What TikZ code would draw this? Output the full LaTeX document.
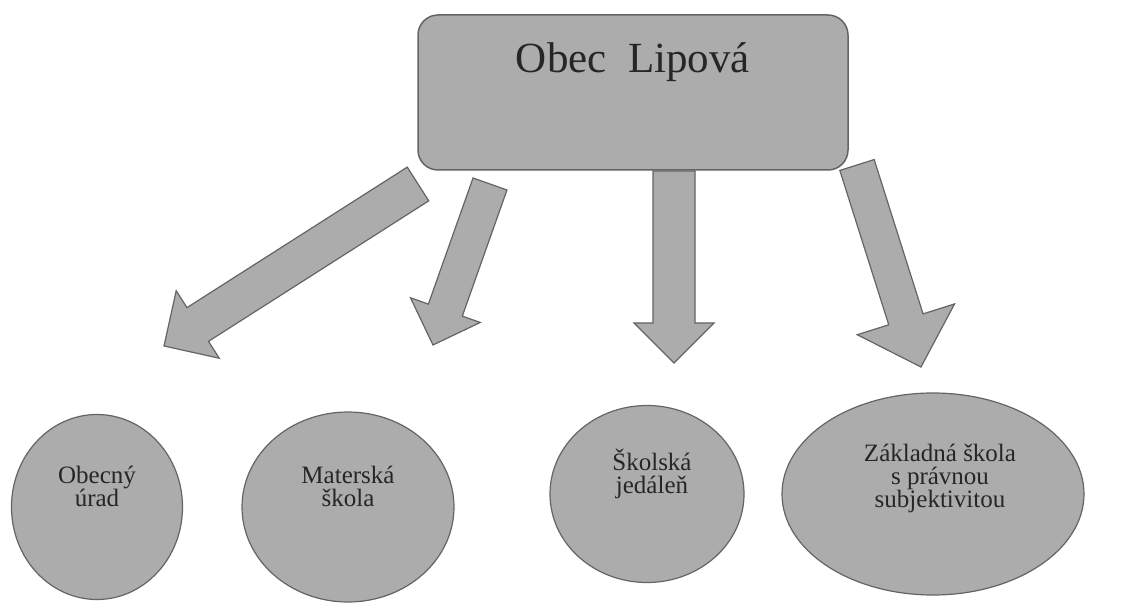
\documentclass[tikz,border=0pt]{standalone}
\usepackage{fontspec}
\setmainfont{Liberation Serif}
\usetikzlibrary{calc,shapes.geometric}
\definecolor{fillg}{RGB}{172,172,172}
\definecolor{lineg}{RGB}{100,100,100}
\newcommand\fatarrow[5]{% tail, tip, shaft half width, head half width, head length
  \draw[fatarr] ($(#1)!#3!90:(#2)$)
     -- ($(#2)!#5!(#1)!#3!-90:(#1)$)
     -- ($(#2)!#5!(#1)!#4!-90:(#1)$)
     -- (#2)
     -- ($(#2)!#5!(#1)!#4!90:(#1)$)
     -- ($(#2)!#5!(#1)!#3!90:(#1)$)
     -- ($(#1)!#3!-90:(#2)$) -- cycle;}
\begin{document}
\begin{tikzpicture}[x=1pt,y=-1pt,
  mainbox/.style={draw=lineg, line width=1.5pt, fill=fillg, rounded corners=20pt,
     minimum width=430pt, minimum height=155pt, inner sep=0pt},
  blob/.style={ellipse, draw=lineg, line width=1.2pt, fill=fillg, inner sep=0pt},
  fatarr/.style={draw=lineg, line width=1.2pt, fill=fillg, line join=miter},
  ltext/.style={align=center, font=\rmfamily\fontsize{25pt}{23pt}\selectfont, text=black!85},
  ttext/.style={anchor=base, font=\rmfamily\fontsize{43pt}{48pt}\selectfont, text=black!85}]
\useasboundingbox (0,0) rectangle (1146,612);
\fill[white] (0,0) rectangle (1146,612);
% top box
\node[mainbox] (top) at (633,92.5) {};
\node[ttext] (toptext) at (633,73) {Obec\ \ Lipová};
% ellipses
\node[blob, minimum width=171pt, minimum height=185pt] (e1) at (97,507) {};
\node[blob, minimum width=212pt, minimum height=190pt] (e2) at (348,507) {};
\node[blob, minimum width=194pt, minimum height=177pt] (e3) at (647,494) {};
\node[blob, minimum width=302pt, minimum height=202pt] (e4) at (933,494) {};
\node[ltext] (t1) at (97,486) {Obecný\\úrad};
\node[ltext] (t2) at (348,486) {Materská\\škola};
\node[ltext] (t3) at (652,474) {Školská\\jedáleň};
\node[ltext] (t4) at (940,478) {Základná škola\\s právnou\\subjektivitou};
% arrows
\coordinate (a1s) at (418,184); \coordinate (a1e) at (164,346);
\coordinate (a2s) at (490,184); \coordinate (a2e) at (433,345);
\coordinate (a3s) at (674,171); \coordinate (a3e) at (674,363);
\coordinate (a4s) at (857,165); \coordinate (a4e) at (921,367);
\fatarrow{a1s}{a1e}{20pt}{40pt}{40pt}
\fatarrow{a2s}{a2e}{18pt}{37pt}{37pt}
\fatarrow{a3s}{a3e}{21pt}{40pt}{40pt}
\fatarrow{a4s}{a4e}{18pt}{51pt}{50pt}
\end{tikzpicture}
\end{document}
